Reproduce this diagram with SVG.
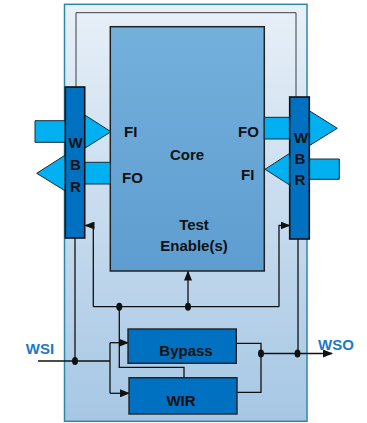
<svg xmlns="http://www.w3.org/2000/svg" width="367" height="423" viewBox="0 0 367 423">
<defs>
<linearGradient id="gOuter" x1="0" y1="0" x2="0" y2="1">
<stop offset="0" stop-color="#e8f0f8"/>
<stop offset="1" stop-color="#a6c7e4"/>
</linearGradient>
<linearGradient id="gCore" x1="0" y1="0" x2="0" y2="1">
<stop offset="0" stop-color="#74b0dc"/>
<stop offset="1" stop-color="#5e9dd0"/>
</linearGradient>
<marker id="ah" markerWidth="10" markerHeight="8" refX="9" refY="4" orient="auto" markerUnits="userSpaceOnUse">
<path d="M0,0 L10,4 L0,8 Z" fill="#111"/>
</marker>
<style>
.lbl{font-family:"Liberation Sans",Arial,sans-serif;font-weight:bold;font-size:15px;fill:#111}
.blue{fill:#1e78c8}
.wbr{fill:#0070c0;stroke:#111;stroke-width:1.6}
.box{fill:#0070c0;stroke:#222;stroke-width:1.4}
.arr{fill:#00b0f0;stroke:#1a2a3a;stroke-width:1}
.w{fill:none;stroke:#111;stroke-width:1.3}
.loop{fill:none;stroke:#3a3f45;stroke-width:1}
.dot{fill:#111}
</style>
</defs>
<g id="wrapper">
<rect x="64.5" y="4.3" width="242.5" height="417" fill="url(#gOuter)" stroke="#2f87a8" stroke-width="1.5"/>
</g>
<g id="core">
<rect x="110.3" y="26.7" width="154" height="244.3" fill="url(#gCore)" stroke="#222" stroke-width="1.5"/>
<text class="lbl" x="187" y="160" text-anchor="middle">Core</text>
<text class="lbl" x="194" y="230" text-anchor="middle">Test</text>
<text class="lbl" x="194" y="251" text-anchor="middle">Enable(s)</text>
<text class="lbl" x="124" y="137">FI</text>
<text class="lbl" x="122" y="183">FO</text>
<text class="lbl" x="238" y="137">FO</text>
<text class="lbl" x="241" y="180">FI</text>
</g>
<g id="connectors">
<polyline class="loop" points="76,87 76,12.7 296,12.7 296,97"/>
<polygon class="arr" points="35,120.7 84.7,120.7 84.7,115 111,131.7 84.7,148.3 84.7,142.3 35,142.3"/>
<polygon class="arr" points="110.3,162.3 65.3,162.3 65.3,155 36.7,173.3 65.3,191 65.3,184 110.3,184"/>
<polygon class="arr" points="264.3,117.3 309.3,117.3 309.3,110.7 337.3,128.3 309.3,145.7 309.3,139 264.3,139"/>
<polygon class="arr" points="339.3,159 289.7,159 289.7,153.3 265,169.3 289.7,185 289.7,179.3 339.3,179.3"/>
<line class="w" x1="93.3" y1="306.7" x2="279" y2="306.7"/>
<line class="w" x1="188" y1="306.7" x2="188" y2="271.5" marker-end="url(#ah)"/>
<polyline class="w" points="93.3,306.7 93.3,225.5 85.5,225.5" marker-end="url(#ah)"/>
<polyline class="w" points="279,306.7 279,225.5 289.5,225.5" marker-end="url(#ah)"/>
<line class="w" x1="75" y1="238" x2="75" y2="361"/>
<line class="w" x1="38" y1="361" x2="110" y2="361"/>
<line class="w" x1="110" y1="342.7" x2="110" y2="393.3"/>
<line class="w" x1="110" y1="342.7" x2="128" y2="342.7" marker-end="url(#ah)"/>
<line class="w" x1="110" y1="393.3" x2="129" y2="393.3" marker-end="url(#ah)"/>
<polyline class="w" points="119.3,306.7 119.3,367.3 184,367.3 184,377.7"/>
<polyline class="w" points="236.3,343.3 261,343.3 261,392.3 237,392.3"/>
<line class="w" x1="261" y1="353.5" x2="332" y2="353.5" marker-end="url(#ah)"/>
<line class="w" x1="298" y1="239" x2="298" y2="353.5"/>
<ellipse class="dot" cx="119.3" cy="306.7" rx="3" ry="4"/>
<ellipse class="dot" cx="188" cy="306.7" rx="3" ry="4"/>
<ellipse class="dot" cx="75" cy="361" rx="3" ry="4"/>
<ellipse class="dot" cx="261" cy="353.5" rx="3" ry="4"/>
<ellipse class="dot" cx="297.5" cy="353.5" rx="3" ry="4"/>
</g>
<g id="wbr-left">
<rect class="wbr" x="65.3" y="87" width="19.4" height="151"/>
<text class="lbl" x="75.5" y="148" text-anchor="middle">W</text>
<text class="lbl" x="75.5" y="170" text-anchor="middle">B</text>
<text class="lbl" x="75.5" y="192" text-anchor="middle">R</text>
</g>
<g id="wbr-right">
<rect class="wbr" x="289.7" y="97" width="19.6" height="142"/>
<text class="lbl" x="301" y="143" text-anchor="middle">W</text>
<text class="lbl" x="300" y="164" text-anchor="middle">B</text>
<text class="lbl" x="300" y="185" text-anchor="middle">R</text>
</g>
<g id="bypass">
<rect class="box" x="128" y="329" width="108.3" height="34.3"/>
<text class="lbl" x="186" y="355.5" text-anchor="middle">Bypass</text>
</g>
<g id="wir">
<rect class="box" x="129" y="377.7" width="108" height="36.3"/>
<text class="lbl" x="181" y="405.5" text-anchor="middle">WIR</text>
</g>
<g id="ports">
<text class="lbl blue" x="40" y="354" text-anchor="middle">WSI</text>
<text class="lbl blue" x="318" y="350">WSO</text>
</g>
</svg>
